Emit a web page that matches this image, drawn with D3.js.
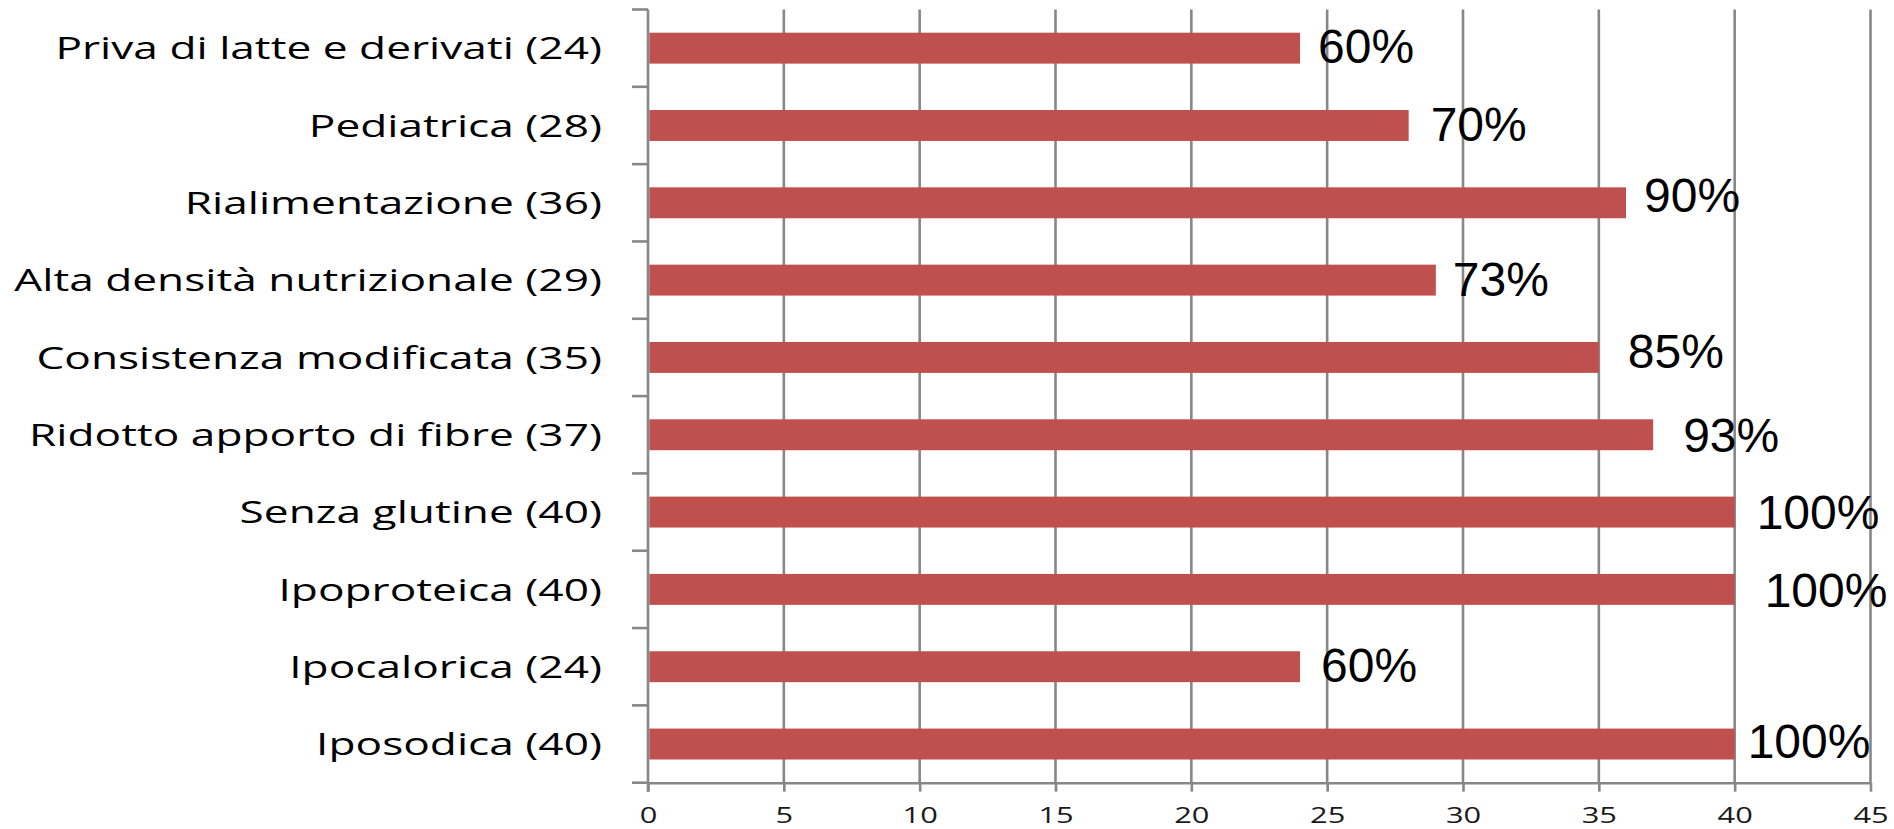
<!DOCTYPE html>
<html>
<head>
<meta charset="utf-8">
<script src="https://cdn.jsdelivr.net/npm/d3@7"></script>
<style>
  html, body { margin: 0; padding: 0; background: #ffffff; }
  svg { display: block; }
</style>
</head>
<body>
<svg id="chart" width="1894" height="829"></svg>
<script>
// Diet types offered, with number of structures (top to bottom)
const categories = [
  "Priva di latte e derivati (24)",
  "Pediatrica (28)",
  "Rialimentazione (36)",
  "Alta densità nutrizionale (29)",
  "Consistenza modificata (35)",
  "Ridotto apporto di fibre (37)",
  "Senza glutine (40)",
  "Ipoproteica (40)",
  "Ipocalorica (24)",
  "Iposodica (40)"
];
const counts = [24, 28, 36, 29, 35, 37, 40, 40, 24, 40];
const percentLabels = ["60%", "70%", "90%", "73%", "85%", "93%", "100%", "100%", "60%", "100%"];
const xTickValues = [0, 5, 10, 15, 20, 25, 30, 35, 40, 45];

// Hand placement of the value labels (pixels from the bar end / bar centre)
const labelShiftX = [18, 22, 18, 17, 29, 30, 22, 30, 21, 13];
const labelShiftY = [-2, -1.5, -8, -1.5, -7, 0, 0, 0, -2, -3];

const svg = d3.select("#chart");
const gridColor = "#878787";
const barColor = "#C0504D";
const axisFont = "'Open Sans', 'DejaVu Sans', sans-serif";
const textStretch = 1.40;

const plotTop = 9.5, plotBottom = 782.7;
const x = d3.scaleLinear().domain([0, 45]).range([648, 1870.5]);
const y = d3.scaleBand().domain(categories).range([plotTop, plotBottom])
  .paddingInner(0.6).paddingOuter(0.3);

// vertical gridlines
svg.append("g").selectAll("line")
  .data(xTickValues.filter(v => v > 0))
  .join("line")
  .attr("x1", d => x(d)).attr("x2", d => x(d))
  .attr("y1", plotTop).attr("y2", plotBottom)
  .attr("stroke", gridColor).attr("stroke-width", 2.6);

// bars
svg.append("g").selectAll("rect")
  .data(categories)
  .join("rect")
  .attr("x", x(0) + 1.3)
  .attr("y", d => y(d))
  .attr("width", (d, i) => x(counts[i]) - x(0) - 1.3)
  .attr("height", y.bandwidth())
  .attr("fill", barColor);

// bottom axis
const xAxis = svg.append("g")
  .attr("transform", `translate(0,${plotBottom})`)
  .call(d3.axisBottom(x).tickValues(xTickValues).tickSize(9).tickSizeOuter(0).tickPadding(0));
xAxis.select(".domain").attr("stroke", gridColor).attr("stroke-width", 2.6);
xAxis.selectAll(".tick line").attr("stroke", gridColor).attr("stroke-width", 2.6);
xAxis.selectAll(".tick text")
  .attr("y", null).attr("dy", null)
  .attr("transform", `translate(0,40.3) scale(${textStretch},1)`)
  .attr("fill", "#1a1a1a")
  .style("font-family", axisFont)
  .style("font-size", "22px");

// left axis: line, boundary ticks and category labels
const step = y.step();
const boundaries = d3.range(categories.length + 1).map(i => plotTop + i * step);
const yAxis = svg.append("g");
yAxis.append("line")
  .attr("x1", x(0)).attr("x2", x(0))
  .attr("y1", plotTop).attr("y2", plotBottom + 9)
  .attr("stroke", gridColor).attr("stroke-width", 2.6);
yAxis.selectAll("line.bound")
  .data(boundaries)
  .join("line")
  .attr("class", "bound")
  .attr("x1", x(0) - 16).attr("x2", x(0))
  .attr("y1", d => d).attr("y2", d => d)
  .attr("stroke", gridColor).attr("stroke-width", 2.6);

const labelSize = 31.6;
yAxis.selectAll("text.cat")
  .data(categories)
  .join("text")
  .attr("class", "cat")
  .attr("text-anchor", "end")
  .attr("transform", d => `translate(602,${y(d) + y.bandwidth() / 2 + labelSize * 0.357}) scale(${textStretch},1)`)
  .attr("fill", "#000")
  .style("font-family", axisFont)
  .style("font-size", labelSize + "px")
  .text(d => d);

// value labels
const valueSize = 48;
svg.append("g").selectAll("text")
  .data(categories)
  .join("text")
  .attr("x", (d, i) => x(counts[i]) + labelShiftX[i])
  .attr("y", (d, i) => y(d) + y.bandwidth() / 2 + labelShiftY[i] + valueSize * 0.358)
  .attr("fill", "#000")
  .style("font-family", "'Liberation Sans', Arial, sans-serif")
  .style("font-size", valueSize + "px")
  .text((d, i) => percentLabels[i]);
</script>
</body>
</html>
